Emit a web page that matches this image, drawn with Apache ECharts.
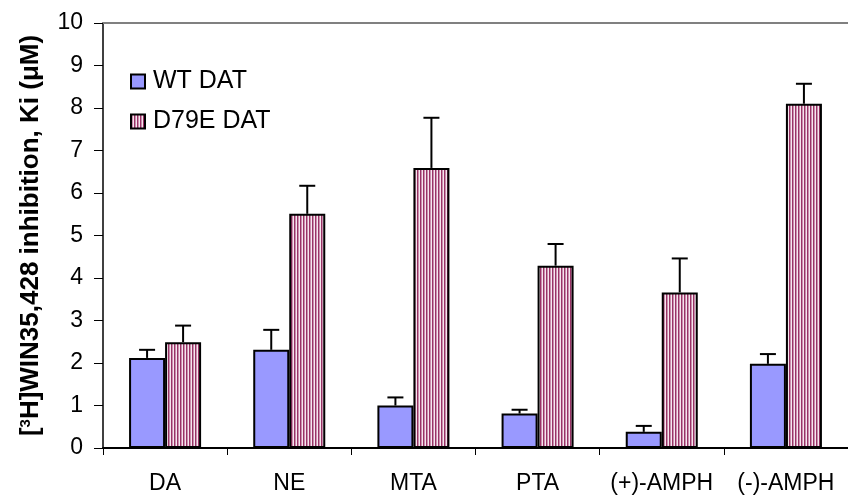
<!DOCTYPE html>
<html>
<head>
<meta charset="utf-8">
<script src="https://cdn.jsdelivr.net/npm/echarts@6/dist/echarts.min.js"></script>
<style>
html,body{margin:0;padding:0;background:#fff;}
#chart{width:848px;height:498px;}
</style>
</head>
<body>
<div id="chart"></div>
<script>
const categories = ['DA', 'NE', 'MTA', 'PTA', '(+)-AMPH', '(-)-AMPH'];
const wtMean = [2.12, 2.31, 1.00, 0.81, 0.38, 1.98];
const wtErr = [0.19, 0.47, 0.19, 0.09, 0.14, 0.23];
const mutMean = [2.49, 5.51, 6.59, 4.29, 3.66, 8.10];
const mutErr = [0.39, 0.66, 1.18, 0.51, 0.80, 0.47];
const yTicks = [0, 1, 2, 3, 4, 5, 6, 7, 8, 9, 10];

const pc = document.createElement('canvas');
pc.width = 3; pc.height = 4;
const px = pc.getContext('2d');
px.fillStyle = '#993366'; px.fillRect(0, 0, 1, 4);
px.fillStyle = '#C98FAE'; px.fillRect(1, 0, 1, 4);
px.fillStyle = '#F6E6EE'; px.fillRect(2, 0, 1, 4);
const stripe = { image: pc, repeat: 'repeat' };

const FONT = '"Liberation Sans", Arial, sans-serif';
const GAP = 0.42;
function errSeries(means, errs, side) {
  return {
    type: 'custom',
    z: 5,
    silent: true,
    data: means.map((m, i) => [i, m, m + errs[i]]),
    encode: { x: 0, y: [1, 2] },
    renderItem: function (params, api) {
      const band = api.size([1, 0])[0];
      const bw = band * (1 - GAP) / 2;
      const base = api.coord([api.value(0), api.value(1)]);
      const top = api.coord([api.value(0), api.value(2)]);
      const x = base[0] + side * bw / 2;
      const cap = 8;
      const st = { stroke: '#000', lineWidth: 2 };
      return {
        type: 'group',
        children: [
          { type: 'line', shape: { x1: x, y1: base[1], x2: x, y2: top[1] }, style: st },
          { type: 'line', shape: { x1: x - cap, y1: top[1], x2: x + cap, y2: top[1] }, style: st }
        ]
      };
    }
  };
}

const chart = echarts.init(document.getElementById('chart'), null, { renderer: 'canvas' });
chart.setOption({
  animation: false,
  backgroundColor: '#fff',
  textStyle: { fontFamily: FONT },
  grid: { left: 103, top: 23, bottom: 50, right: -6, containLabel: false },
  legend: {
    orient: 'vertical',
    left: 125,
    top: 64,
    itemWidth: 14,
    itemHeight: 14,
    itemGap: 15,
    data: [{ name: 'WT DAT', icon: 'rect' }, { name: 'D79E DAT', icon: 'rect' }],
    textStyle: { fontSize: 25, color: '#000', fontFamily: FONT, padding: [0, 0, 0, 3] },
    itemStyle: { borderColor: '#000', borderWidth: 2 }
  },
  xAxis: [{
    type: 'category',
    data: categories,
    axisLine: { lineStyle: { color: '#000', width: 2 } },
    axisTick: { show: true, length: 7, lineStyle: { color: '#000', width: 1 } },
    axisLabel: { fontSize: 23, color: '#000', margin: 24, interval: 0, fontFamily: FONT }
  }, {
    type: 'category',
    data: categories,
    position: 'top',
    axisLine: { lineStyle: { color: '#808080', width: 2 } },
    axisTick: { show: false },
    axisLabel: { show: false }
  }],
  yAxis: {
    type: 'value',
    min: yTicks[0],
    max: yTicks[yTicks.length - 1],
    interval: 1,
    axisLine: { show: true, lineStyle: { color: '#000', width: 1.5 } },
    axisTick: { show: true, length: 9, lineStyle: { color: '#000', width: 1 } },
    splitLine: { show: false },
    axisLabel: { fontSize: 23, color: '#000', margin: 20, fontFamily: FONT },
    name: '[{sup|3}H]WIN35,428 inhibition, Ki (μM)',
    nameLocation: 'middle',
    nameGap: 59,
    nameTextStyle: {
      fontSize: 26,
      fontWeight: 'bold',
      color: '#000',
      fontFamily: FONT,
      rich: {
        sup: { fontSize: 15, fontWeight: 'bold', color: '#000', fontFamily: FONT, verticalAlign: 'top', padding: [0, 0, 10, 0] }
      }
    }
  },
  series: [
    {
      name: 'WT DAT',
      type: 'bar',
      data: wtMean,
      barGap: '0%',
      barCategoryGap: (GAP * 100) + '%',
      itemStyle: { color: '#9999FF', borderColor: '#000', borderWidth: 2 }
    },
    {
      name: 'D79E DAT',
      type: 'bar',
      data: mutMean,
      barGap: '0%',
      barCategoryGap: (GAP * 100) + '%',
      itemStyle: { color: stripe, borderColor: '#000', borderWidth: 2 }
    },
    errSeries(wtMean, wtErr, -1),
    errSeries(mutMean, mutErr, 1)
  ]
});
</script>
</body>
</html>
